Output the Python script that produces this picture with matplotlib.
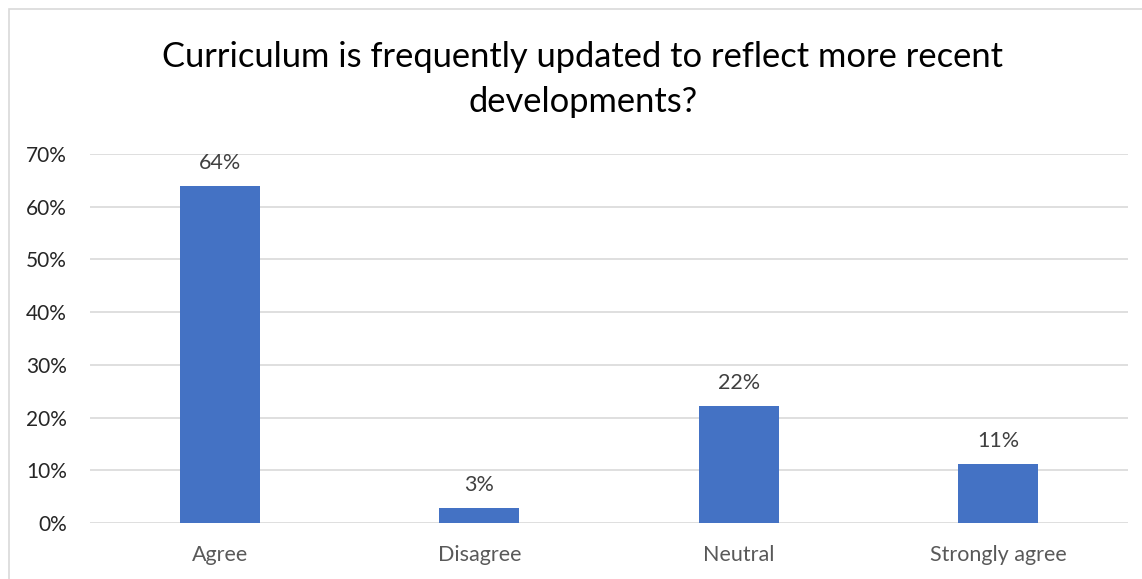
import matplotlib
matplotlib.use("Agg")
import matplotlib.pyplot as plt
from matplotlib.patches import Rectangle
from matplotlib.ticker import FuncFormatter

categories = ["Agree", "Disagree", "Neutral", "Strongly agree"]
percentages = [63.9, 2.8, 22.2, 11.1]
title = "Curriculum is frequently updated to reflect more recent\ndevelopments?"

plt.rcParams["font.family"] = ["Lato", "DejaVu Sans"]

fig = plt.figure(figsize=(11.42, 5.79), dpi=100)
fig.patches.append(Rectangle((9 / 1142, -0.1), 1.2, 0.1 + 1 - 9 / 579,
                             transform=fig.transFigure, fill=False,
                             edgecolor="#d9d9d9", linewidth=1.2))

ax = fig.add_axes([90 / 1142, 1 - 523 / 579, 1038 / 1142, (523 - 154) / 579])
x = range(len(categories))
bars = ax.bar(x, percentages, width=0.31, color="#4472c4", zorder=3)
for b, v in zip(bars, percentages):
    ax.text(b.get_x() + b.get_width() / 2, v + 2.5, f"{v:.0f}%",
            ha="center", va="bottom", fontsize=15.5, color="#404040")

ax.set_xlim(-0.5, len(categories) - 0.5)
ax.set_ylim(0, 70)
ax.set_yticks(range(0, 71, 10))
ax.yaxis.set_major_formatter(FuncFormatter(lambda v, p: f"{v:.0f}%"))
ax.set_xticks(list(x))
ax.set_xticklabels(categories, color="#595959")
ax.tick_params(axis="both", length=0, labelsize=15.5)
ax.tick_params(axis="y", pad=16.5, labelcolor="#262626", labelsize=15)
ax.tick_params(axis="x", pad=15.5)
ax.grid(axis="y", color="#d9d9d9", linewidth=1.2, zorder=0)
for s in ax.spines.values():
    s.set_visible(False)

fig.text(583 / 1142, 1 - 79.5 / 579, title, ha="center", va="center",
         fontsize=24.8, color="black", linespacing=1.47)

fig.savefig("out.png", dpi=100)
